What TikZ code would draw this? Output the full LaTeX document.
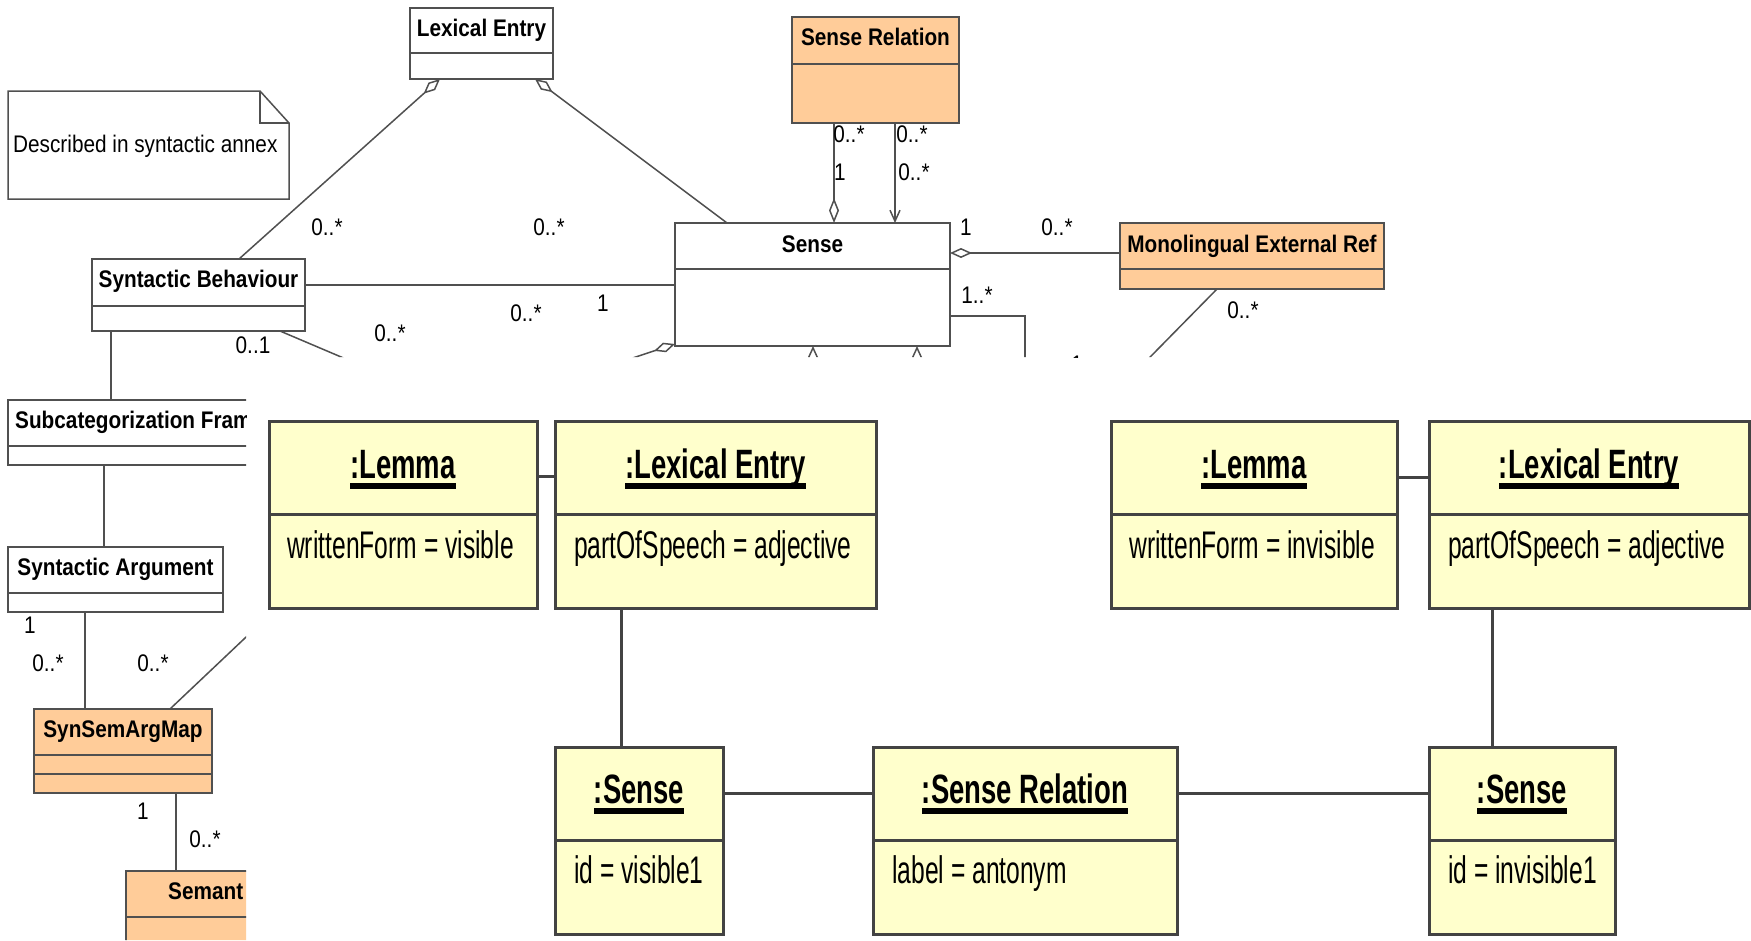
\documentclass[tikz,border=0pt]{standalone}
\usepackage{fontspec}
\setmainfont{Liberation Sans}
\newfontfamily\bgf[FakeStretch=0.865]{Liberation Sans}
\newfontfamily\obtf[FakeStretch=0.67]{Liberation Sans}
\newfontfamily\obaf[FakeStretch=0.64]{Liberation Sans}
\usetikzlibrary{calc,arrows.meta}
\definecolor{orangefill}{HTML}{FFCC99}
\definecolor{yellowfill}{HTML}{FFFFCC}
\definecolor{bgline}{HTML}{505050}
\definecolor{objline}{HTML}{434343}
\newcommand\ulttl[1]{\setbox0\hbox{#1}\rlap{\rule[-11pt]{\wd0}{6pt}}\box0}
\tikzset{
  cls/.style={draw=bgline, line width=1.5pt, fill=white, inner sep=0pt, outer sep=0pt, anchor=north west},
  ocls/.style={cls, fill=orangefill},
  bgl/.style={draw=bgline, line width=1.5pt},
  bgttl/.style={font=\bgf\bfseries\fontsize{24}{28}\selectfont, inner sep=0pt, anchor=base},
  mult/.style={font=\bgf\fontsize{24}{28}\selectfont, inner sep=0pt},
  agg/.style={{Diamond[open,length=22pt,width=10pt]}-},
  obj/.style={draw=objline, line width=3pt, fill=yellowfill, inner sep=0pt, outer sep=0pt, anchor=north west},
  objl/.style={draw=objline, line width=3pt},
  ottl/.style={font=\obtf\bfseries\fontsize{41}{48}\selectfont, inner sep=0pt, anchor=base},
  oatt/.style={font=\obaf\fontsize{38.5}{44}\selectfont, inner sep=0pt, anchor=base west},
}
\begin{document}
\begin{tikzpicture}[x=1pt,y=-1pt]
\useasboundingbox (0,0) rectangle (1751,940);
\fill[white] (0,0) rectangle (1751,940);

% ---------------- background class diagram (partly hidden) ----------------
\begin{scope}
\clip (0,0) -- (1751,0) -- (1751,357) -- (246,357) -- (246,940) -- (0,940) -- cycle;

% note
\draw[bgl, fill=white] (8,91) -- (260,91) -- (289,123) -- (289,199) -- (8,199) -- cycle;
\draw[bgl] (260,91) -- (260,123) -- (289,123);
\node[mult, anchor=base west] (note) at (13,152) {Described in syntactic annex};

% classes
\node[cls, minimum width=143pt, minimum height=71pt] (le) at (410,8) {};
\draw[bgl] ($(le.north west)+(0,45)$) -- ($(le.north east)+(0,45)$);
\node[bgttl] (le-t) at ($(le.north)+(0,28.5)$) {Lexical Entry};

\node[ocls, minimum width=167pt, minimum height=106pt] (sr) at (792,17) {};
\draw[bgl] ($(sr.north west)+(0,47)$) -- ($(sr.north east)+(0,47)$);
\node[bgttl] (sr-t) at ($(sr.north)+(0,28.5)$) {Sense Relation};

\node[cls, minimum width=275pt, minimum height=123pt] (se) at (675,223) {};
\draw[bgl] ($(se.north west)+(0,46)$) -- ($(se.north east)+(0,46)$);
\node[bgttl] (se-t) at ($(se.north)+(0,29)$) {Sense};

\node[ocls, minimum width=264pt, minimum height=66pt] (mer) at (1120,223) {};
\draw[bgl] ($(mer.north west)+(0,46)$) -- ($(mer.north east)+(0,46)$);
\node[bgttl] (mer-t) at ($(mer.north)+(0,29)$) {Monolingual External Ref};

\node[cls, minimum width=213pt, minimum height=72pt] (sb) at (92,259) {};
\draw[bgl] ($(sb.north west)+(0,47)$) -- ($(sb.north east)+(0,47)$);
\node[bgttl] (sb-t) at ($(sb.north)+(0,28.5)$) {Syntactic Behaviour};

\node[cls, minimum width=300pt, minimum height=65pt] (sc) at (8,400) {};
\draw[bgl] ($(sc.north west)+(0,46)$) -- ($(sc.north east)+(0,46)$);
\node[bgttl, anchor=base west] (sc-t) at ($(sc.north west)+(7,28.5)$) {Subcategorization Fram};

\node[cls, minimum width=215pt, minimum height=65pt] (sa) at (8,547) {};
\draw[bgl] ($(sa.north west)+(0,46)$) -- ($(sa.north east)+(0,46)$);
\node[bgttl] (sa-t) at ($(sa.north)+(0,28.5)$) {Syntactic Argument};

\node[ocls, minimum width=178pt, minimum height=84pt] (ssam) at (34,709) {};
\draw[bgl] ($(ssam.north west)+(0,46)$) -- ($(ssam.north east)+(0,46)$);
\draw[bgl] ($(ssam.north west)+(0,65)$) -- ($(ssam.north east)+(0,65)$);
\node[bgttl] (ssam-t) at ($(ssam.north)+(0,28.5)$) {SynSemArgMap};

\node[ocls, minimum width=200pt, minimum height=100pt] (sem) at (126,871) {};
\draw[bgl] ($(sem.north west)+(0,46)$) -- ($(sem.north east)+(0,46)$);
\node[bgttl, anchor=base west] (sem-t) at ($(sem.north west)+(42,28.5)$) {Semant};

% free ends of connectors that run under the object diagram
\coordinate (sbout) at (400,382);
\coordinate (ssamout) at (300,586);
\coordinate (seblout) at (560,382);
\coordinate (seb1out) at (813,420);
\coordinate (seb2out) at (917,420);
\coordinate (serout) at (1025,420);
\coordinate (merout) at (1100,408);

% connectors
\draw[bgl, agg] ($(le.south west)+(30,0)$) -- ($(sb.north west)+(147,0)$);
\draw[bgl, agg] ($(le.south west)+(125,0)$) -- ($(se.north west)+(52,0)$);
\draw[bgl] ($(sb.north east)+(0,26)$) -- ($(se.north west)+(0,62)$);
\draw[bgl] ($(sb.south west)+(188,0)$) -- (sbout);
\draw[bgl] ($(sb.south west)+(19,0)$) -- ($(sc.north west)+(103,0)$);
\draw[bgl] ($(sc.south west)+(96,0)$) -- ($(sa.north west)+(96,0)$);
\draw[bgl] ($(sa.south west)+(77,0)$) -- ($(ssam.north west)+(51,0)$);
\draw[bgl] ($(ssam.north west)+(136,0)$) -- (ssamout);
\draw[bgl] ($(ssam.south west)+(142,0)$) -- ($(sem.north west)+(50,0)$);
\draw[bgl, -{Diamond[open,length=25pt,width=10pt]}] ($(sr.south west)+(42,0)$) -- ($(se.north west)+(159,0)$);
\draw[bgl, -{Straight Barb[length=11pt,width=10pt]}] ($(sr.south west)+(103,0)$) -- ($(se.north west)+(220,0)$);
\draw[bgl, agg] ($(se.north east)+(0,30)$) -- ($(mer.north west)+(0,30)$);
\draw[bgl] ($(se.north east)+(0,93)$) -| (serout);
\draw[bgl] ($(mer.south west)+(97,0)$) -- (merout);
\draw[bgl, agg] ($(se.south west)+(138,0)$) -- (seb1out);
\draw[bgl, agg] ($(se.south west)+(242,0)$) -- (seb2out);
\draw[bgl, agg] ($(se.south west)+(0,-2)$) -- (seblout);

% multiplicities
\node[mult] (m1) at (327,227) {0..*};
\node[mult] (m2) at (549,227) {0..*};
\node[mult] (m3) at (526,313) {0..*};
\node[mult] (m4) at (603,303) {1};
\node[mult] (m5) at (253,345) {0..1};
\node[mult] (m6) at (390,333) {0..*};
\node[mult] (m7) at (849,134) {0..*};
\node[mult] (m8) at (840,172) {1};
\node[mult] (m9) at (912,134) {0..*};
\node[mult] (m10) at (914,172) {0..*};
\node[mult] (m11) at (966,227) {1};
\node[mult] (m12) at (1057,227) {0..*};
\node[mult] (m13) at (977,295) {1..*};
\node[mult] (m14) at (1243,310) {0..*};
\node[mult] (m15) at (1077,364) {1};
\node[mult] (m16) at (30,625) {1};
\node[mult] (m17) at (48,663) {0..*};
\node[mult] (m18) at (153,663) {0..*};
\node[mult] (m19) at (143,811) {1};
\node[mult] (m20) at (205,839) {0..*};
\end{scope}

% ---------------- object diagram ----------------
\node[obj, minimum width=268pt, minimum height=187pt] (lemL) at (269,421) {};
\node[obj, minimum width=321pt, minimum height=187pt] (lexL) at (555,421) {};
\node[obj, minimum width=286pt, minimum height=187pt] (lemR) at (1111,421) {};
\node[obj, minimum width=320pt, minimum height=187pt] (lexR) at (1429,421) {};
\node[obj, minimum width=168pt, minimum height=187pt] (senL) at (555,747) {};
\node[obj, minimum width=304pt, minimum height=187pt] (rel) at (873,747) {};
\node[obj, minimum width=186pt, minimum height=187pt] (senR) at (1429,747) {};

\foreach \b in {lemL,lexL,lemR,lexR,senL,rel,senR}{
  \draw[objl] ($(\b.north west)+(0,93)$) -- ($(\b.north east)+(0,93)$);
}

\node[ottl] (lemL-t) at ($(lemL.north)+(0,57)$) {\ulttl{:Lemma}};
\node[ottl] (lexL-t) at ($(lexL.north)+(0,57)$) {\ulttl{:Lexical Entry}};
\node[ottl] (lemR-t) at ($(lemR.north)+(0,57)$) {\ulttl{:Lemma}};
\node[ottl] (lexR-t) at ($(lexR.north)+(0,57)$) {\ulttl{:Lexical Entry}};
\node[ottl] (senL-t) at ($(senL.north)+(0,56)$) {\ulttl{:Sense}};
\node[ottl] (rel-t) at ($(rel.north)+(0,56)$) {\ulttl{:Sense Relation}};
\node[ottl] (senR-t) at ($(senR.north)+(0,56)$) {\ulttl{:Sense}};

\node[oatt] (lemL-a) at ($(lemL.north west)+(18,137)$) {writtenForm = visible};
\node[oatt] (lexL-a) at ($(lexL.north west)+(19,137)$) {partOfSpeech = adjective};
\node[oatt] (lemR-a) at ($(lemR.north west)+(18,137)$) {writtenForm = invisible};
\node[oatt] (lexR-a) at ($(lexR.north west)+(19,137)$) {partOfSpeech = adjective};
\node[oatt] (senL-a) at ($(senL.north west)+(19,136)$) {id = visible1};
\node[oatt] (rel-a) at ($(rel.north west)+(19,136)$) {label = antonym};
\node[oatt] (senR-a) at ($(senR.north west)+(19,136)$) {id = invisible1};

\draw[objl] ($(lemL.north east)+(0,55)$) -- ($(lexL.north west)+(0,55)$);
\draw[objl] ($(lemR.north east)+(0,56)$) -- ($(lexR.north west)+(0,56)$);
\draw[objl] ($(lexL.south west)+(66,0)$) -- ($(senL.north west)+(66,0)$);
\draw[objl] ($(lexR.south west)+(63,0)$) -- ($(senR.north west)+(63,0)$);
\draw[objl] ($(senL.north east)+(0,46)$) -- ($(rel.north west)+(0,46)$);
\draw[objl] ($(rel.north east)+(0,46)$) -- ($(senR.north west)+(0,46)$);
\end{tikzpicture}
\end{document}
